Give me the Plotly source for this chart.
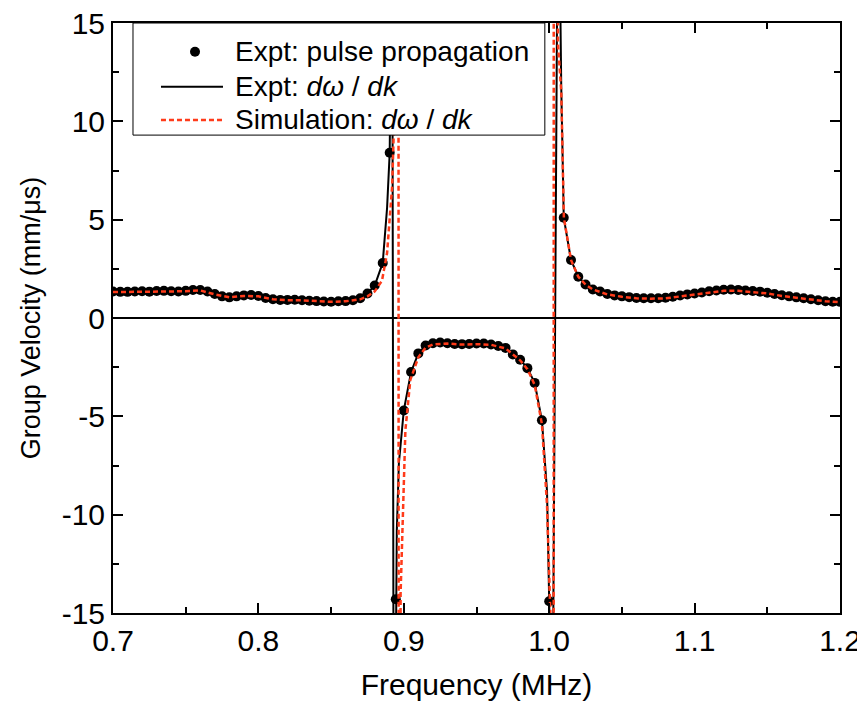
import plotly.graph_objects as go

# Expt: pulse propagation (dots)
dots_freq = [0.700, 0.705, 0.710, 0.715, 0.720, 0.725, 0.730, 0.735, 0.740, 0.745,
             0.750, 0.755, 0.760, 0.765, 0.770, 0.775, 0.780, 0.785, 0.790, 0.795,
             0.800, 0.805, 0.810, 0.815, 0.820, 0.825, 0.830, 0.835, 0.840, 0.845,
             0.850, 0.855, 0.860, 0.865, 0.870, 0.875, 0.880, 0.8855, 0.8903,
             0.8945, 0.900, 0.905, 0.910, 0.915, 0.920, 0.925, 0.930, 0.935, 0.940,
             0.945, 0.950, 0.955, 0.960, 0.965, 0.970, 0.975, 0.980, 0.985, 0.990,
             0.995, 1.000,
             1.010, 1.015, 1.020, 1.025, 1.030, 1.035, 1.040, 1.045, 1.050, 1.055,
             1.060, 1.065, 1.070, 1.075, 1.080, 1.085, 1.090, 1.095, 1.100, 1.105,
             1.110, 1.115, 1.120, 1.125, 1.130, 1.135, 1.140, 1.145, 1.150, 1.155,
             1.160, 1.165, 1.170, 1.175, 1.180, 1.185, 1.190, 1.195, 1.200]
dots_vg = [1.35, 1.33, 1.33, 1.35, 1.36, 1.34, 1.37, 1.38, 1.36, 1.35,
           1.38, 1.42, 1.42, 1.35, 1.22, 1.10, 1.05, 1.10, 1.15, 1.17,
           1.12, 1.02, 0.95, 0.92, 0.92, 0.93, 0.90, 0.88, 0.86, 0.84,
           0.83, 0.85, 0.86, 0.90, 1.00, 1.25, 1.65, 2.80, 8.40,
           -14.3, -4.7, -2.75, -1.80, -1.40, -1.28, -1.25, -1.28, -1.32, -1.33,
           -1.32, -1.30, -1.30, -1.35, -1.42, -1.52, -1.85, -2.12, -2.55, -3.30,
           -5.20, -14.4,
           5.10, 2.95, 2.10, 1.70, 1.45, 1.35, 1.22, 1.15, 1.10, 1.06,
           1.02, 1.00, 1.00, 1.00, 1.03, 1.08, 1.14, 1.20, 1.25, 1.30,
           1.36, 1.40, 1.44, 1.45, 1.43, 1.40, 1.37, 1.34, 1.28, 1.22,
           1.16, 1.10, 1.05, 1.00, 0.95, 0.90, 0.85, 0.83, 0.82]

# extra points of the experimental d(omega)/dk curve around the two divergences
line_extra_freq = [0.8885, 0.8912, 0.8918, 0.8932, 0.8952, 0.8966,
                   0.9985, 1.0020, 1.0062, 1.0074, 1.0083, 1.0092]
line_extra_vg = [5.6, 15.5, 30.0, -30.0, -10.8, -7.4,
                 -8.8, -25.0, 25.0, 15.0, 11.7, 8.3]

# Simulation: d(omega)/dk
sim_freq = [0.70, 0.71, 0.72, 0.73, 0.74, 0.75, 0.76, 0.77, 0.78, 0.79,
            0.80, 0.81, 0.82, 0.83, 0.84, 0.85, 0.86, 0.87, 0.875, 0.88,
            0.885, 0.8885, 0.892, 0.893, 0.8945, 0.8962, 0.8966, 0.8978, 0.9011,
            0.9045, 0.91, 0.915, 0.92, 0.93, 0.94, 0.95, 0.96, 0.97, 0.975,
            0.98, 0.985, 0.99, 0.995, 0.9985, 1.0008, 1.003, 1.0032, 1.006,
            1.0083, 1.0092, 1.0101, 1.015, 1.02, 1.025, 1.03, 1.04, 1.05, 1.06,
            1.07, 1.08, 1.09, 1.10, 1.11, 1.12, 1.13, 1.14, 1.15, 1.16,
            1.17, 1.18, 1.19, 1.20]
sim_vg = [1.32, 1.32, 1.34, 1.35, 1.35, 1.36, 1.40, 1.20, 1.05, 1.12,
          1.10, 0.95, 0.90, 0.90, 0.85, 0.82, 0.85, 0.95, 1.10, 1.35,
          1.90, 3.3, 6.7, 9.2, 20.0, 80.0, -80.0, -14.0, -5.7,
          -3.15, -2.0, -1.5, -1.35, -1.30, -1.35, -1.33, -1.36, -1.55, -1.85,
          -2.15, -2.6, -3.4, -5.4, -9.5, -15.0, -80.0, 80.0, 14.0,
          11.5, 8.2, 5.1, 2.95, 2.1, 1.7, 1.45, 1.2, 1.08, 1.0,
          0.98, 1.0, 1.1, 1.2, 1.3, 1.38, 1.38, 1.33, 1.25, 1.12,
          1.02, 0.92, 0.85, 0.80]

x_ticks = [0.7, 0.8, 0.9, 1.0, 1.1, 1.2]
x_ticktext = ["0.7", "0.8", "0.9", "1.0", "1.1", "1.2"]
y_ticks = [-15, -10, -5, 0, 5, 10, 15]
y_ticktext = ["-15", "-10", "-5", "0", "5", "10", "15"]

legend_labels = ["Expt: pulse propagation",
                 "Expt: <i>dω</i> / <i>dk</i>",
                 "Simulation: <i>dω</i> / <i>dk</i>"]

# experimental line = dots + extra points near the poles, sorted by frequency
line_pts = sorted(zip(dots_freq + line_extra_freq, dots_vg + line_extra_vg))
line_freq = [p[0] for p in line_pts]
line_vg = [p[1] for p in line_pts]

font = "Liberation Sans, Arial, sans-serif"
red = "#ff3b1a"

fig = go.Figure()
fig.add_trace(go.Scatter(
    x=dots_freq, y=dots_vg, mode="markers", name=legend_labels[0],
    marker=dict(color="black", size=10)))
fig.add_trace(go.Scatter(
    x=line_freq, y=line_vg, mode="lines", name=legend_labels[1],
    line=dict(color="black", width=2)))
fig.add_trace(go.Scatter(
    x=sim_freq, y=sim_vg, mode="lines", name=legend_labels[2],
    line=dict(color=red, width=2.5, dash="5px,3px")))

axis_common = dict(
    showline=True, linecolor="black", linewidth=2, mirror="allticks",
    ticks="inside", ticklen=10, tickwidth=2, tickcolor="black",
    showgrid=False, automargin=False, ticklabeloverflow="allow",
    tickfont=dict(family=font, size=30, color="black"),
)

fig.update_xaxes(
    range=[0.7, 1.2], tickvals=x_ticks, ticktext=x_ticktext,
    minor=dict(ticks="inside", dtick=0.05, tick0=0.7, ticklen=6,
               tickwidth=2, tickcolor="black"),
    title_text="Frequency (MHz)", title_standoff=18, zeroline=False,
    title_font=dict(family=font, size=30, color="black"),
    **axis_common)
fig.update_yaxes(
    range=[-15, 15], tickvals=y_ticks, ticktext=y_ticktext,
    minor=dict(ticks="inside", dtick=2.5, tick0=0, ticklen=6,
               tickwidth=2, tickcolor="black"),
    title_text="Group Velocity (mm/μs)", title_standoff=13,
    title_font=dict(family=font, size=27, color="black"),
    zeroline=True, zerolinecolor="black", zerolinewidth=2,
    **axis_common)

# legend drawn by hand (Origin-style box, tighter rows than plotly's legend)
row_y = [0.9514, 0.892, 0.8356]
fig.add_shape(type="rect", xref="paper", yref="paper",
              x0=0.0275, x1=0.594, y0=0.81, y1=1.0,
              line=dict(color="black", width=1), fillcolor="white", layer="above")
fig.add_shape(type="circle", xref="paper", yref="paper",
              xsizemode="pixel", ysizemode="pixel",
              xanchor=0.1128, yanchor=row_y[0], x0=-5, x1=5, y0=-5, y1=5,
              fillcolor="black", line=dict(color="black", width=0), layer="above")
fig.add_shape(type="line", xref="paper", yref="paper",
              x0=0.066, x1=0.1513, y0=row_y[1], y1=row_y[1],
              line=dict(color="black", width=2), layer="above")
fig.add_shape(type="line", xref="paper", yref="paper",
              x0=0.066, x1=0.1513, y0=row_y[2], y1=row_y[2],
              line=dict(color=red, width=2.5, dash="5px,3px"), layer="above")
for label, ry in zip(legend_labels, row_y):
    fig.add_annotation(text=label, xref="paper", yref="paper",
                       x=0.165, y=ry, xanchor="left", yanchor="middle",
                       showarrow=False,
                       font=dict(family=font, size=28, color="black"))

# the page body has an 8px margin, so the figure is 8px smaller and margins shifted
fig.update_layout(
    width=857, height=694,
    margin=dict(l=105, r=25, t=15, b=89),
    plot_bgcolor="white", paper_bgcolor="white",
    font=dict(family=font, color="black"),
    showlegend=False,
)

fig.write_html("out.html")
